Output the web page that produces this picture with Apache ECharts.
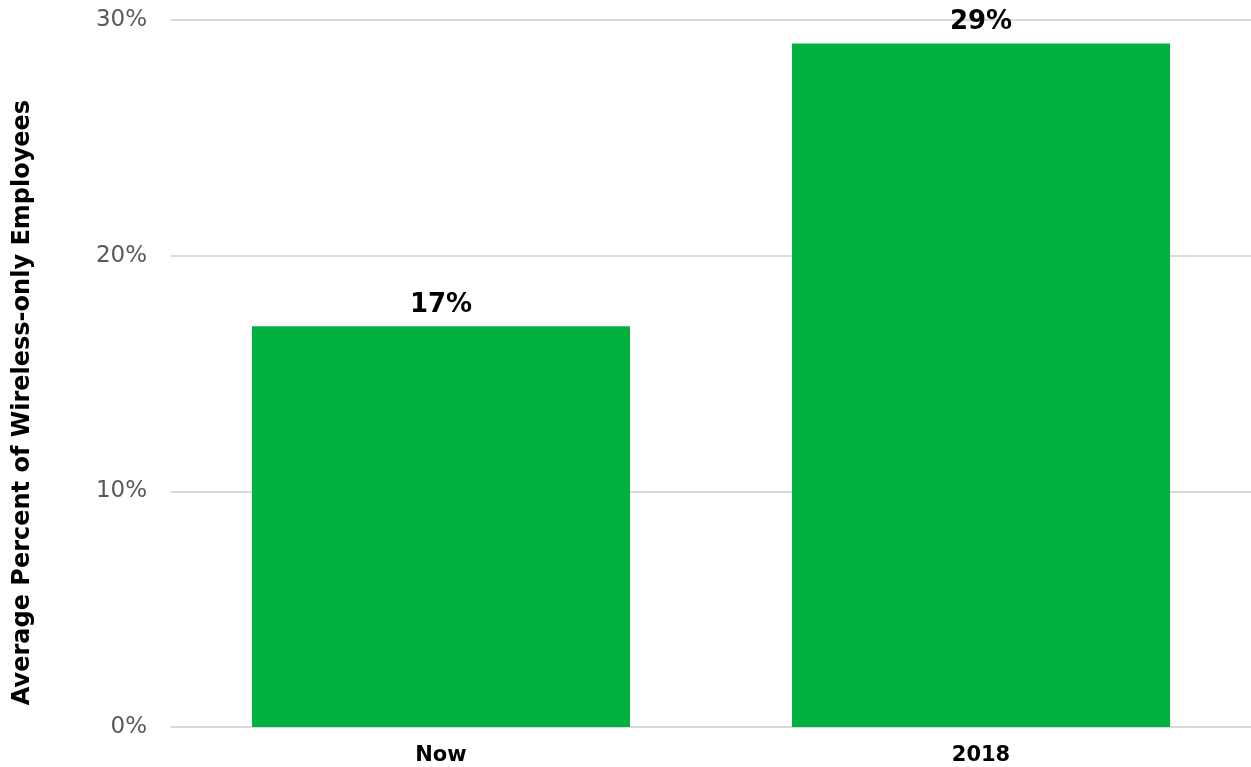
<!DOCTYPE html>
<html><head><meta charset="utf-8">
<script src="https://cdn.jsdelivr.net/npm/echarts@6/dist/echarts.min.js"></script>
<style>html,body{margin:0;padding:0;background:#fff}#c{width:1251px;height:767px}</style>
</head><body><div id="c"></div>
<script>
const categories = ["Now", "2018"];
const values = [17, 29];
const yTicks = [0, 10, 20, 30];
const yAxisName = "Average Percent of Wireless-only Employees";

const chart = echarts.init(document.getElementById('c'));
chart.setOption({
  animation: false,
  textStyle: { fontFamily: 'DejaVu Sans' },
  grid: { left: 171, width: 1085, top: 20, bottom: 40 },
  xAxis: {
    type: 'category', data: categories,
    axisLine: { lineStyle: { color: '#d9d9d9', width: 2 } },
    axisTick: { show: false },
    axisLabel: { color: '#000', fontWeight: 'bold', fontSize: 21, margin: 18, fontFamily: 'DejaVu Sans' }
  },
  yAxis: {
    type: 'value', min: yTicks[0], max: yTicks[yTicks.length - 1], interval: 10,
    name: yAxisName, nameLocation: 'middle', nameGap: 136,
    nameTextStyle: { color: '#000', fontWeight: 'bold', fontSize: 24, fontFamily: 'DejaVu Sans', padding: [0, 0, 0, -58] },
    axisLine: { show: false }, axisTick: { show: false },
    axisLabel: { color: '#595959', fontSize: 23, margin: 24, formatter: '{value}%', fontFamily: 'DejaVu Sans' },
    splitLine: { lineStyle: { color: '#d9d9d9', width: 2 } }
  },
  series: [{
    type: 'bar', data: values, barWidth: '70%',
    itemStyle: { color: '#00b140' },
    label: { show: true, position: 'top', distance: 8, formatter: '{c}%', color: '#000', fontWeight: 'bold', fontSize: 26, fontFamily: 'DejaVu Sans' }
  }]
});
</script></body></html>
